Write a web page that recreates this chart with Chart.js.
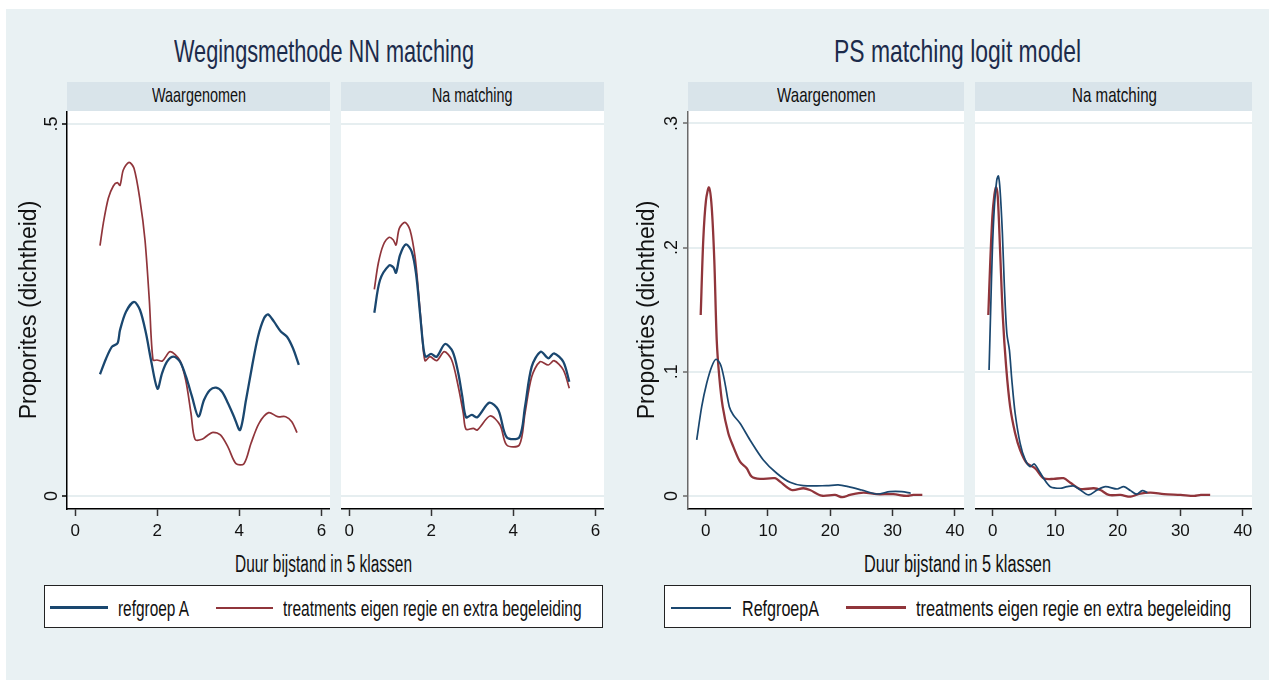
<!DOCTYPE html>
<html>
<head>
<meta charset="utf-8">
<script src="https://cdn.jsdelivr.net/npm/chart.js@4.4.0/dist/chart.umd.min.js"></script>
<style>
body{margin:0;width:1269px;height:680px;overflow:hidden;position:relative;background:#fff;font-family:"Liberation Sans",Arial,sans-serif}
.bg{position:absolute;left:6px;top:9px;right:0;bottom:0;background:#e9f1f3}
.plot{position:absolute;background:#fff;top:111px;height:398px}
.strip{position:absolute;background:#d9e4ea;top:82px;height:29px}
.txt{position:absolute;white-space:nowrap;line-height:1}
.txt span{display:inline-block;transform-origin:0 0}
canvas{position:absolute}
.legend{position:absolute;top:585px;height:43px;background:#fff;border:1.5px solid #222;box-sizing:border-box}
.key{position:absolute}
</style>
</head>
<body>
<div class="bg"></div>
<script>
// ---------- data ----------
const panelNames = ['Waargenomen', 'Na matching'];
const graphTitles = ['Wegingsmethode NN matching', 'PS matching logit model'];
const xTitle = 'Duur bijstand in 5 klassen';
const yTitles = ['Proporites (dichtheid)', 'Proporties (dichtheid)'];
const nnSeriesNames = ['refgroep A', 'treatments eigen regie en extra begeleiding'];
const psSeriesNames = ['RefgroepA', 'treatments eigen regie en extra begeleiding'];

const nnXTicks = [0, 2, 4, 6];
const nnXLabels = ['0', '2', '4', '6'];
const nnYTicks = [0, 0.5];
const nnYLabels = ['0', '.5'];
const psXTicks = [0, 10, 20, 30, 40];
const psXLabels = ['0', '10', '20', '30', '40'];
const psYTicks = [0, 0.1, 0.2, 0.3];
const psYLabels = ['0', '.1', '.2', '.3'];

// NN matching, Waargenomen
const nnObsRefX = [0.604, 0.751, 0.897, 1.031, 1.092, 1.238, 1.433, 1.579, 1.725, 1.847, 2.006, 2.116, 2.238, 2.396, 2.554, 2.701, 2.847, 3.003, 3.139, 3.286, 3.432, 3.578, 3.724, 3.870, 4.017, 4.163, 4.309, 4.455, 4.602, 4.699, 4.845, 5.016, 5.162, 5.308, 5.450];
const nnObsRefY = [0.1636, 0.1845, 0.2007, 0.2052, 0.2231, 0.2477, 0.2608, 0.2500, 0.2187, 0.1828, 0.1442, 0.1649, 0.1805, 0.1872, 0.1805, 0.1603, 0.1335, 0.1066, 0.1290, 0.1425, 0.1456, 0.1402, 0.1246, 0.1066, 0.0887, 0.1290, 0.1738, 0.2141, 0.2388, 0.2442, 0.2343, 0.2208, 0.2141, 0.1985, 0.1761];
const nnObsTrtX = [0.604, 0.685, 0.807, 0.929, 1.026, 1.092, 1.172, 1.311, 1.433, 1.579, 1.701, 1.806, 1.896, 1.994, 2.125, 2.315, 2.544, 2.693, 2.822, 2.920, 3.090, 3.237, 3.358, 3.539, 3.719, 3.919, 4.114, 4.285, 4.480, 4.714, 4.933, 5.130, 5.279, 5.406];
const nnObsTrtY = [0.3364, 0.3665, 0.4001, 0.4167, 0.4211, 0.4176, 0.4382, 0.4485, 0.4405, 0.3978, 0.3441, 0.2634, 0.1828, 0.1828, 0.1815, 0.1940, 0.1828, 0.1559, 0.1112, 0.0762, 0.0762, 0.0820, 0.0856, 0.0820, 0.0663, 0.0434, 0.0434, 0.0708, 0.0977, 0.1120, 0.1066, 0.1066, 0.0999, 0.0851];
// NN matching, Na matching
const nnMatRefX = [0.612, 0.751, 0.977, 1.075, 1.141, 1.238, 1.384, 1.523, 1.628, 1.726, 1.806, 1.864, 1.994, 2.133, 2.335, 2.523, 2.659, 2.757, 2.847, 2.986, 3.122, 3.415, 3.634, 3.839, 4.146, 4.285, 4.448, 4.667, 4.853, 4.992, 5.218, 5.364];
const nnMatRefY = [0.2464, 0.2903, 0.3101, 0.3074, 0.3001, 0.3239, 0.3383, 0.3284, 0.2993, 0.2456, 0.2007, 0.1872, 0.1909, 0.1872, 0.2043, 0.1940, 0.1649, 0.1335, 0.1058, 0.1089, 0.1058, 0.1254, 0.1156, 0.0789, 0.0789, 0.1200, 0.1738, 0.1940, 0.1851, 0.1918, 0.1805, 0.1536];
const nnMatTrtX = [0.612, 0.709, 0.831, 0.977, 1.075, 1.141, 1.221, 1.360, 1.482, 1.604, 1.684, 1.767, 1.847, 1.969, 2.133, 2.318, 2.498, 2.659, 2.781, 2.847, 3.025, 3.122, 3.432, 3.676, 3.839, 4.146, 4.285, 4.448, 4.650, 4.853, 4.992, 5.218, 5.364];
const nnMatTrtY = [0.2778, 0.3128, 0.3374, 0.3477, 0.3441, 0.3374, 0.3598, 0.3679, 0.3575, 0.3216, 0.2769, 0.2231, 0.1819, 0.1872, 0.1819, 0.1940, 0.1828, 0.1469, 0.1112, 0.0897, 0.0910, 0.0887, 0.1075, 0.0954, 0.0685, 0.0685, 0.1112, 0.1603, 0.1805, 0.1761, 0.1819, 0.1694, 0.1448];

// PS matching, Waargenomen
const psObsRefX = [-1.44, -0.64, 0.16, 0.96, 1.65, 2.41, 3.10, 3.79, 4.43, 5.51, 7.11, 9.25, 11.40, 13.53, 15.67, 19.42, 21.28, 22.89, 25.04, 27.45, 29.58, 31.46, 32.91];
const psObsRefY = [0.0451, 0.0719, 0.0907, 0.1041, 0.1101, 0.1055, 0.0907, 0.0719, 0.0652, 0.0585, 0.0451, 0.0290, 0.0183, 0.0110, 0.0083, 0.0083, 0.0089, 0.0075, 0.0048, 0.0016, 0.0035, 0.0035, 0.0022];
const psObsTrtX = [-0.80, -0.39, 0.05, 0.53, 0.96, 1.38, 1.77, 2.18, 2.73, 3.63, 4.43, 5.51, 6.58, 7.38, 8.72, 11.12, 11.93, 13.80, 15.67, 16.74, 18.62, 20.75, 21.93, 23.16, 25.30, 27.45, 30.11, 32.26, 33.32, 34.77];
const psObsTrtY = [0.1457, 0.2061, 0.2383, 0.2485, 0.2329, 0.1900, 0.1256, 0.0961, 0.0719, 0.0505, 0.0397, 0.0276, 0.0223, 0.0155, 0.0137, 0.0143, 0.0115, 0.0048, 0.0062, 0.0048, 0.0002, 0.0008, -0.0010, 0.0008, 0.0027, 0.0014, 0.0014, 0.0000, 0.0008, 0.0008];
// PS matching, Na matching
const psMatRefX = [-0.59, -0.32, -0.06, 0.26, 0.64, 0.90, 1.17, 1.54, 1.86, 2.25, 2.66, 3.05, 3.58, 4.38, 5.19, 5.99, 6.63, 7.32, 8.12, 9.20, 10.80, 11.88, 12.94, 14.01, 15.35, 16.69, 18.03, 19.90, 20.96, 22.04, 23.00, 23.92, 24.72];
const psMatRefY = [0.1014, 0.1524, 0.1981, 0.2329, 0.2544, 0.2576, 0.2464, 0.2115, 0.1685, 0.1310, 0.1176, 0.0934, 0.0666, 0.0424, 0.0290, 0.0236, 0.0258, 0.0209, 0.0143, 0.0075, 0.0062, 0.0075, 0.0081, 0.0048, 0.0008, 0.0048, 0.0075, 0.0056, 0.0075, 0.0043, 0.0014, 0.0043, 0.0027];
const psMatTrtX = [-0.71, -0.43, -0.06, 0.26, 0.53, 0.80, 1.17, 1.61, 2.14, 2.78, 3.58, 4.38, 5.46, 6.79, 8.12, 9.73, 11.33, 12.41, 14.01, 16.15, 17.22, 18.56, 20.43, 22.04, 23.37, 25.25, 27.38, 30.06, 32.20, 33.27, 34.77];
const psMatTrtY = [0.1457, 0.1846, 0.2249, 0.2424, 0.2485, 0.2410, 0.1981, 0.1444, 0.1041, 0.0719, 0.0505, 0.0370, 0.0263, 0.0223, 0.0143, 0.0137, 0.0143, 0.0107, 0.0056, 0.0062, 0.0048, 0.0008, 0.0008, -0.0006, 0.0016, 0.0027, 0.0014, 0.0008, 0.0000, 0.0008, 0.0008];

// ---------- drawing ----------
const BLUE = '#1a476f';
const RED = '#90353b';
Chart.defaults.font.family = '"Liberation Sans", Arial, sans-serif';

function pts(xs, ys) { return xs.map((x, i) => ({x: x, y: ys[i]})); }

function box(cls, x, w, extra) {
  const d = document.createElement('div');
  d.className = cls;
  d.style.left = x + 'px';
  d.style.width = w + 'px';
  if (extra) Object.assign(d.style, extra);
  document.body.appendChild(d);
  return d;
}

// text squeezed to the narrow look of the original
function label(text, o) {
  const d = document.createElement('div');
  d.className = 'txt';
  d.style.fontSize = o.size + 'px';
  d.style.top = (o.cy - 0.4885 * o.size) + 'px';
  d.style.color = o.color || '#111';
  const s = document.createElement('span');
  s.textContent = text;
  d.appendChild(s);
  document.body.appendChild(d);
  const w = s.getBoundingClientRect().width;
  s.style.transform = 'scaleX(' + (o.w / w) + ')';
  d.style.left = (o.cx !== undefined ? o.cx - o.w / 2 : o.x) + 'px';
}

function panel(p) {
  const c = document.createElement('canvas');
  c.width = p.w; c.height = p.h;
  c.style.left = p.x + 'px'; c.style.top = p.y + 'px';
  c.style.width = p.w + 'px'; c.style.height = p.h + 'px';
  document.body.appendChild(c);
  new Chart(c, {
    type: 'line',
    data: {
      datasets: p.series.map(s => ({
        data: pts(s.x, s.y), borderColor: s.color, borderWidth: s.width,
        pointRadius: 0, tension: 0.3, fill: false
      }))
    },
    options: {
      responsive: false, animation: false, devicePixelRatio: 1,
      layout: {padding: 0},
      plugins: {legend: {display: false}, tooltip: {enabled: false}},
      scales: {
        x: {
          type: 'linear', min: p.xMin, max: p.xMax,
          afterBuildTicks: s => { s.ticks = p.xTicks.map(v => ({value: v})); },
          afterFit: s => { s.height = p.xH; s.paddingLeft = 0; s.paddingRight = 0; },
          grid: {drawOnChartArea: false, drawTicks: true, tickLength: 7, tickColor: '#333', tickWidth: 1.5},
          border: {display: true, color: '#000', width: 1.5},
          ticks: {
            padding: 5, color: '#111', autoSkip: false, maxRotation: 0,
            font: {size: 17, family: '"Liberation Sans Narrow", "Liberation Sans", Arial, sans-serif'},
            callback: v => p.xLabels[p.xTicks.indexOf(v)]
          }
        },
        y: {
          min: p.yMin, max: p.yMax,
          afterBuildTicks: s => { s.ticks = p.yTicks.map(v => ({value: v})); },
          afterFit: s => { s.width = p.yW; s.paddingTop = 0; s.paddingBottom = 0; },
          grid: {color: '#e6eef0', lineWidth: 2, drawTicks: p.showY, tickLength: 5, tickColor: p.axisColor, tickWidth: 1.5},
          border: {display: p.showY, color: p.axisColor, width: 1.5},
          ticks: {
            display: p.showY, padding: p.yPad, crossAlign: 'center', minRotation: 90, maxRotation: 90,
            color: '#111', font: {size: 18},
            callback: v => p.yLabels[p.yTicks.indexOf(v)]
          },
          title: {display: p.showY, text: p.yTitle, color: '#111', font: {size: 23}, padding: {top: p.yTitlePad, bottom: 0}}
        }
      }
    }
  });
}

// backgrounds: plot regions and panel strips
[[67, 263], [341, 263], [688, 276], [975, 277]].forEach(r => {
  box('plot', r[0], r[1]);
  box('strip', r[0], r[1]);
});

const nnAxes = {xMin: -0.2, xMax: 6.21, xTicks: nnXTicks, xLabels: nnXLabels,
  yMin: -0.0175, yMax: 0.5175, yTicks: nnYTicks, yLabels: nnYLabels, xH: 36};
const psAxes = {xMin: -2.84, xMax: 41.46, xTicks: psXTicks, xLabels: psXLabels,
  yMin: -0.0105, yMax: 0.31, yTicks: psYTicks, yLabels: psYLabels, xH: 36};

panel(Object.assign({}, nnAxes, {x: 10, y: 111, w: 320, h: 434, yW: 57, showY: true, axisColor: '#000',
  yPad: 2.5, yTitle: yTitles[0], yTitlePad: 6,
  series: [{x: nnObsRefX, y: nnObsRefY, color: BLUE, width: 2.3}, {x: nnObsTrtX, y: nnObsTrtY, color: RED, width: 1.7}]}));
panel(Object.assign({}, nnAxes, {x: 341, y: 111, w: 263, h: 434, yW: 0, showY: false, axisColor: '#000',
  yPad: 0, yTitle: '', yTitlePad: 0,
  series: [{x: nnMatRefX, y: nnMatRefY, color: BLUE, width: 2.3}, {x: nnMatTrtX, y: nnMatTrtY, color: RED, width: 1.7}]}));
panel(Object.assign({}, psAxes, {x: 630, y: 111, w: 334, h: 434, yW: 58, showY: true, axisColor: '#6a6a6a',
  yPad: 3.5, yTitle: yTitles[1], yTitlePad: 4,
  series: [{x: psObsRefX, y: psObsRefY, color: BLUE, width: 1.7}, {x: psObsTrtX, y: psObsTrtY, color: RED, width: 2.3}]}));
panel(Object.assign({}, psAxes, {x: 975, y: 111, w: 277, h: 434, yW: 0, showY: false, axisColor: '#6a6a6a',
  yPad: 0, yTitle: '', yTitlePad: 0,
  series: [{x: psMatRefX, y: psMatRefY, color: BLUE, width: 1.7}, {x: psMatTrtX, y: psMatTrtY, color: RED, width: 2.3}]}));

// titles, strip labels, x titles
label(graphTitles[0], {cx: 323.5, cy: 50.5, size: 32, w: 300, color: '#1c2b4b'});
label(graphTitles[1], {cx: 957.5, cy: 50.5, size: 32, w: 247, color: '#1c2b4b'});
label(panelNames[0], {cx: 198.8, cy: 94.5, size: 21, w: 94});
label(panelNames[1], {cx: 472, cy: 94.5, size: 21, w: 80.4});
label(panelNames[0], {cx: 826.4, cy: 94.5, size: 21, w: 98.7});
label(panelNames[1], {cx: 1114, cy: 94.5, size: 21, w: 85});
label(xTitle, {cx: 323, cy: 563.8, size: 23, w: 177});
label(xTitle, {cx: 957.5, cy: 563.8, size: 23, w: 187});

// legends
box('legend', 44, 559);
box('legend', 663.5, 587.5);
box('key', 50, 58, {top: '606px', height: '3px', background: BLUE});
box('key', 215.5, 57, {top: '606.5px', height: '2px', background: RED});
box('key', 671, 60, {top: '606.5px', height: '2px', background: BLUE});
box('key', 846, 59.5, {top: '606px', height: '3px', background: RED});
label(nnSeriesNames[0], {x: 118, cy: 609, size: 22, w: 71});
label(nnSeriesNames[1], {x: 283, cy: 609, size: 22, w: 298.6});
label(psSeriesNames[0], {x: 742, cy: 609, size: 22, w: 77});
label(psSeriesNames[1], {x: 915.7, cy: 609, size: 22, w: 315});
</script>
</body>
</html>
